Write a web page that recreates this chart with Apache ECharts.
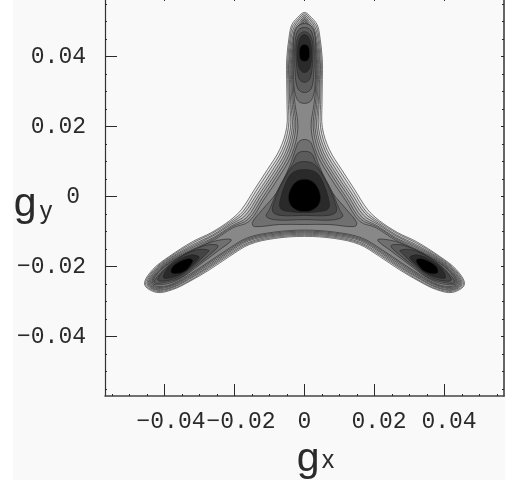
<!DOCTYPE html>
<html>
<head>
<meta charset="utf-8">
<style>html,body{margin:0;padding:0;background:#fff}#c{width:516px;height:480px}</style>
<script src="https://cdn.jsdelivr.net/npm/echarts@6/dist/echarts.min.js"></script>
</head>
<body>
<div id="c"></div>
<script>
// Tick values and labels
const majorTicks = [-0.04, -0.02, 0, 0.02, 0.04];
const xTickLabels = ['\u22120.04', '\u22120.02', '0', '0.02', '0.04'];
const yTickLabels = ['\u22120.04', '\u22120.02', '0', '0.02', '0.04'];
const minorTicks = [-0.055,-0.05,-0.045,-0.035,-0.03,-0.025,-0.015,-0.01,-0.005,0.005,0.01,0.015,0.025,0.03,0.035,0.045,0.05,0.055];

// Contours: flat x,y lists in units of 0.001
const joined1 = [0,52.6,2,51.1,3.6,49.1,4.3,46.3,5.1,39.1,5.1,33.4,5,26.3,5.1,19.7,7.1,13.4,10.6,7.7,14.3,2,18,-3.7,21.4,-6.9,26.6,-10.3,32,-12.9,38.6,-17.1,43.4,-20.9,45.7,-25.1,42.3,-27.4,37.7,-26.6,32.9,-24.3,27.1,-20.9,21.4,-17.1,15.7,-13.7,8.6,-12,0,-11.4,
 -8.6,-12,-15.7,-13.7,-21.4,-17.1,-27.1,-20.9,-32.9,-24.3,-37.7,-26.6,-42.3,-27.4,-45.7,-25.1,-43.4,-20.9,-38.6,-17.1,-32,-12.9,-26.6,-10.3,-21.4,-6.9,-18,-3.7,-14.3,2,-10.6,7.7,-7.1,13.4,-5.1,19.7,-5,26.3,-5.1,33.4,-5.1,39.1,-4.3,46.3,-3.6,49.1,-2,51.1];
const joined2 = [0,52.2,1.8,50.7,3.3,48.8,4,46.2,4.8,39.1,4.8,33.4,4.6,26.3,4.6,19.7,6.5,13.2,10.1,7.3,13.9,1.5,17.6,-4.3,21.2,-7.2,26.5,-10.6,31.8,-13.2,38.5,-17.3,43.2,-21.1,45.4,-25.1,42.2,-27.1,37.8,-26.4,33,-24.1,27.3,-20.6,21.6,-16.8,15.8,-13.4,8.6,-11.7,0,-11.1,
 -8.6,-11.7,-15.8,-13.4,-21.6,-16.8,-27.3,-20.6,-33,-24.1,-37.8,-26.4,-42.2,-27.1,-45.4,-25.1,-43.2,-21.1,-38.5,-17.3,-31.8,-13.2,-26.5,-10.6,-21.2,-7.2,-17.6,-4.3,-13.9,1.5,-10.1,7.3,-6.5,13.2,-4.6,19.7,-4.6,26.3,-4.8,33.4,-4.8,39.1,-4,46.2,-3.3,48.8,-1.8,50.7];
const joined3 = [0,51.7,1.6,50.4,2.9,48.6,3.7,46.1,4.5,39.1,4.5,33.4,4.2,26.3,4,19.6,6,12.9,9.6,6.8,13.4,1,17.3,-4.8,21.1,-7.6,26.3,-11,31.6,-13.6,38.3,-17.5,43,-21.2,45,-25,42.2,-26.8,37.9,-26.1,33.2,-23.8,27.4,-20.3,21.7,-16.5,15.9,-13.1,8.7,-11.4,0,-10.8,
 -8.7,-11.4,-15.9,-13.1,-21.7,-16.5,-27.4,-20.3,-33.2,-23.8,-37.9,-26.1,-42.2,-26.8,-45,-25,-43,-21.2,-38.3,-17.5,-31.6,-13.6,-26.3,-11,-21.1,-7.6,-17.3,-4.8,-13.4,1,-9.6,6.8,-6,12.9,-4,19.6,-4.2,26.3,-4.5,33.4,-4.5,39.1,-3.7,46.1,-2.9,48.6,-1.6,50.4];
const joined4 = [0,51.3,1.3,50,2.6,48.3,3.3,46,4.3,39.1,4.3,33.4,3.9,26.3,3.5,19.6,5.4,12.7,9.1,6.4,13,0.5,16.9,-5.4,20.9,-7.9,26.2,-11.3,31.4,-13.9,38.2,-17.7,42.8,-21.4,44.7,-25,42.1,-26.6,37.9,-25.9,33.3,-23.6,27.6,-20.1,21.9,-16.2,16,-12.7,8.7,-11.1,0,-10.5,
 -8.7,-11.1,-16,-12.7,-21.9,-16.2,-27.6,-20.1,-33.3,-23.6,-37.9,-25.9,-42.1,-26.6,-44.7,-25,-42.8,-21.4,-38.2,-17.7,-31.4,-13.9,-26.2,-11.3,-20.9,-7.9,-16.9,-5.4,-13,0.5,-9.1,6.4,-5.4,12.7,-3.5,19.6,-3.9,26.3,-4.3,33.4,-4.3,39.1,-3.3,46,-2.6,48.3,-1.3,50];
const joined5 = [0,50.9,1.1,49.6,2.2,48.1,3,45.9,4,39.1,4,33.4,3.5,26.3,3,19.6,4.9,12.4,8.6,6,12.6,0,16.5,-6,20.7,-8.3,26,-11.7,31.2,-14.2,38,-17.9,42.6,-21.5,44.4,-25,42.1,-26.3,38,-25.6,33.4,-23.3,27.8,-19.8,22,-15.9,16.1,-12.4,8.7,-10.8,0,-10.2,
 -8.7,-10.8,-16.1,-12.4,-22,-15.9,-27.8,-19.8,-33.4,-23.3,-38,-25.6,-42.1,-26.3,-44.4,-25,-42.6,-21.5,-38,-17.9,-31.2,-14.2,-26,-11.7,-20.7,-8.3,-16.5,-6,-12.6,0,-8.6,6,-4.9,12.4,-3,19.6,-3.5,26.3,-4,33.4,-4,39.1,-3,45.9,-2.2,48.1,-1.1,49.6];
const joined6 = [0,50.5,0.9,49.3,1.9,47.8,2.7,45.8,3.7,39.1,3.7,33.4,3.1,26.3,2.5,19.6,4.3,12.2,8.1,5.6,12.1,-0.5,16.1,-6.5,20.6,-8.6,25.9,-12,31.1,-14.6,37.9,-18.1,42.4,-21.7,44.1,-25,42,-26,38.1,-25.4,33.6,-23.1,28,-19.5,22.2,-15.6,16.2,-12.1,8.8,-10.5,0,-9.9,
 -8.8,-10.5,-16.2,-12.1,-22.2,-15.6,-28,-19.5,-33.6,-23.1,-38.1,-25.4,-42,-26,-44.1,-25,-42.4,-21.7,-37.9,-18.1,-31.1,-14.6,-25.9,-12,-20.6,-8.6,-16.1,-6.5,-12.1,-0.5,-8.1,5.6,-4.3,12.2,-2.5,19.6,-3.1,26.3,-3.7,33.4,-3.7,39.1,-2.7,45.8,-1.9,47.8,-0.9,49.3];
const joined7 = [0,50,0.7,48.9,1.5,47.5,2.4,45.7,3.4,39.1,3.4,33.4,2.7,26.3,1.9,19.5,3.7,11.9,7.6,5.1,11.7,-1,15.8,-7.1,20.4,-8.9,25.7,-12.3,30.9,-14.9,37.7,-18.3,42.2,-21.8,43.7,-24.9,41.9,-25.7,38.2,-25.2,33.7,-22.8,28.1,-19.2,22.3,-15.3,16.3,-11.8,8.8,-10.2,0,-9.6,
 -8.8,-10.2,-16.3,-11.8,-22.3,-15.3,-28.1,-19.2,-33.7,-22.8,-38.2,-25.2,-41.9,-25.7,-43.7,-24.9,-42.2,-21.8,-37.7,-18.3,-30.9,-14.9,-25.7,-12.3,-20.4,-8.9,-15.8,-7.1,-11.7,-1,-7.6,5.1,-3.7,11.9,-1.9,19.5,-2.7,26.3,-3.4,33.4,-3.4,39.1,-2.4,45.7,-1.5,47.5,-0.7,48.9];

const center1 = [0,16.3,1.6,15.7,2.4,14,4.3,8.6,8,1.1,12,-3.7,14.9,-7.4,14.3,-8.6,7.1,-8,0,-8,-7.1,-8,-14.3,-8.6,-14.9,-7.4,-12,-3.7,-8,1.1,-4.3,8.6,-2.4,14,-1.6,15.7];
const center2 = [0,12.9,2,12.3,3.4,9.4,7.1,2.9,10,-3.7,10.9,-5.7,8,-6.7,0,-6.6,-8,-6.7,-10.9,-5.7,-10,-3.7,-7.1,2.9,-3.4,9.4,-2,12.3];
const center3 = [0,10,2.9,9.1,6.3,4,8.6,-1.4,9.1,-4.3,6.9,-5.4,0,-5.4,-6.9,-5.4,-9.1,-4.3,-8.6,-1.4,-6.3,4,-2.9,9.1];
const center4 = [0,7.7,3.1,7,4.9,4.9,7.1,-1.7,6.6,-3.7,3.4,-4.4,0,-4.6,-3.4,-4.4,-6.6,-3.7,-7.1,-1.7,-4.9,4.9,-3.1,7];
const center5 = [0,4.9,2.3,4.3,3.9,2.3,4.6,-0.3,3.9,-2.6,2,-4,0,-4.3,-2,-4,-3.9,-2.6,-4.6,-0.3,-3.9,2.3,-2.3,4.3];

const top1 = [0,49.4,2,48.6,3,46,3.2,40,3.1,33.1,2.7,29.5,1.7,27.2,0,26.6,-1.7,27.2,-2.7,29.5,-3.1,33.1,-3.2,40,-3,46,-2,48.6];
const top2 = [0,48.3,1.7,47.6,2.6,45,2.8,40,2.6,34,2,31,1.1,30,0,29.7,-1.1,30,-2,31,-2.6,34,-2.8,40,-2.6,45,-1.7,47.6];
const top3 = [0,47.1,1.4,46.4,2.3,44,2.4,40,2.1,36,1.4,33.4,0,32.6,-1.4,33.4,-2.1,36,-2.4,40,-2.3,44,-1.4,46.4];
const top4 = [0,46.3,1.1,45.6,1.9,43,2,39.5,1.6,37,0.9,35.8,0,35.4,-0.9,35.8,-1.6,37,-2,39.5,-1.9,43,-1.1,45.6];
const top5 = [0,43.4,0.9,43.1,1.4,42,1.4,40,1,39,0,38.6,-1,39,-1.4,40,-1.4,42,-0.9,43.1];

const right1 = [43.3,-24.9,38.6,-24.8,34.9,-23.1,31.4,-20.6,28,-18,24.9,-15.7,20.9,-12.4,25.1,-12.6,30,-14.4,34.9,-16.8,41.3,-21.2];
const right2 = [42.9,-24.6,38.6,-24.3,34.9,-22.9,31.4,-20.1,28,-17.4,24.7,-14.1,28.4,-14,35.1,-17.1,40.6,-21.3];
const right3 = [41.9,-23.9,38.6,-23.9,34.9,-22.4,31.4,-19.6,28,-16.3,27.3,-15.4,30.5,-15.2,35.9,-17.6,40.1,-21.1];
const right4 = [40.3,-23.2,38.6,-23.3,34.9,-22,31.4,-19,30.1,-17.3,32.4,-16.7,36.3,-18.3,39.4,-20.9];
const right5 = [38.1,-21.7,36.6,-22.1,34.1,-21.3,32.6,-19.7,31.9,-18.2,33.1,-17.7,35.9,-18.7,37.8,-20.2];

const left1 = [-43.3,-24.9,-38.6,-24.8,-34.9,-23.1,-31.4,-20.6,-28,-18,-24.9,-15.7,-20.9,-12.4,-25.1,-12.6,-30,-14.4,-34.9,-16.8,-41.3,-21.2];
const left2 = [-42.9,-24.6,-38.6,-24.3,-34.9,-22.9,-31.4,-20.1,-28,-17.4,-24.7,-14.1,-28.4,-14,-35.1,-17.1,-40.6,-21.3];
const left3 = [-41.9,-23.9,-38.6,-23.9,-34.9,-22.4,-31.4,-19.6,-28,-16.3,-27.3,-15.4,-30.5,-15.2,-35.9,-17.6,-40.1,-21.1];
const left4 = [-40.3,-23.2,-38.6,-23.3,-34.9,-22,-31.4,-19,-30.1,-17.3,-32.4,-16.7,-36.3,-18.3,-39.4,-20.9];
const left5 = [-38.1,-21.7,-36.6,-22.1,-34.1,-21.3,-32.6,-19.7,-31.9,-18.2,-33.1,-17.7,-35.9,-18.7,-37.8,-20.2];

const contourLines = [joined1,joined2,joined3,joined4,joined5,joined6,joined7,
  center1,center2,center3,center4,center5,
  top1,top2,top3,top4,top5,
  right1,right2,right3,right4,right5,
  left1,left2,left3,left4,left5];
const contourShades = ['#e4e4e4','#d4d4d4','#c4c4c4','#b4b4b4','#a4a4a4','#969696','#888888',
  '#707070','#5c5c5c','#454545','#2a2a2a','#000000',
  '#707070','#5c5c5c','#454545','#2a2a2a','#000000',
  '#707070','#5c5c5c','#454545','#2a2a2a','#000000',
  '#707070','#5c5c5c','#454545','#2a2a2a','#000000'];

const xMin=-0.057, xMax=0.057, yMin=-0.057, yMax=0.057;
const unit=0.001;
const ink='#2a2a2a';
const labelFont={fontFamily:'Liberation Mono',fontSize:23,color:ink};

function labelIndex(v){return majorTicks.findIndex(t=>Math.abs(t-v)<1e-6);}
function xLabel(v){const i=labelIndex(v);const t=xTickLabels[i];return '{'+(i<2?'n':(i===2?'z':'p'))+'|'+t+'}';}
function yLabel(v){const i=labelIndex(v);const t=yTickLabels[i];return i===2?'{z|'+t+'}':t;}

const hidden={axisLine:{show:false,onZero:false},axisLabel:{show:false},splitLine:{show:false}};
function xa(extra){return Object.assign({type:'value',min:xMin,max:xMax,splitLine:{show:false}},extra);}
function ya(extra){return Object.assign({type:'value',min:yMin,max:yMax,splitLine:{show:false}},extra);}
const tick=(len,vals,w)=>({show:true,inside:true,length:len,customValues:vals,lineStyle:{color:ink,width:w||1}});

const chart=echarts.init(document.getElementById('c'),null,{renderer:'canvas',width:516,height:480});
chart.setOption({
  animation:false,
  graphic:[{type:'rect',silent:true,z:-10,shape:{x:13,y:0,width:492,height:480},style:{fill:'#f9f9f9'}}],
  grid:{left:105,right:12,top:-3,bottom:84,containLabel:false,outerBoundsMode:'none'},
  xAxis:[
    xa({position:'bottom',axisLine:{show:true,onZero:false,lineStyle:{color:'#444',width:1.5}},axisTick:tick(12,majorTicks),
      axisLabel:{show:true,customValues:majorTicks,margin:14,hideOverlap:false,showMinLabel:true,showMaxLabel:true,formatter:xLabel,
        rich:{n:Object.assign({padding:[0,0,0,13]},labelFont),z:Object.assign({},labelFont),p:Object.assign({padding:[0,0,0,9]},labelFont)}},
      name:'{g|g}{s|x}',nameLocation:'middle',nameGap:43,
      nameTextStyle:{rich:{g:{fontFamily:'Liberation Sans',fontSize:41,color:ink,padding:[0,2,4,0]},s:{fontFamily:'Liberation Sans',fontSize:25,color:ink}},padding:[0,0,0,22]}}),
    xa({position:'bottom',axisTick:tick(2,minorTicks),...hidden}),
    xa({position:'top',axisLine:{show:true,onZero:false,lineStyle:{color:'#444'}},axisTick:tick(4,majorTicks),axisLabel:{show:false}})
  ],
  yAxis:[
    ya({position:'left',axisLine:{show:true,onZero:false,lineStyle:{color:'#333',width:1.2}},axisTick:tick(12,majorTicks),
      axisLabel:{show:true,customValues:majorTicks,margin:19,hideOverlap:false,formatter:yLabel,
        fontFamily:'Liberation Mono',fontSize:23,color:ink,rich:{z:Object.assign({padding:[0,6,0,0]},labelFont)}},
      name:'{g|g}{s|y}',nameLocation:'middle',nameRotate:0,nameGap:72,nameMoveOverlap:false,
      nameTextStyle:{align:'center',verticalAlign:'middle',padding:[20,0,0,0],rich:{g:{fontFamily:'Liberation Sans',fontSize:41,color:ink,padding:[0,3,4,0]},s:{fontFamily:'Liberation Sans',fontSize:25,color:ink,padding:[12,0,0,0]}}}}),
    ya({position:'left',axisTick:tick(2,minorTicks),...hidden}),
    ya({position:'right',axisLine:{show:true,onZero:false,lineStyle:{color:'#333',width:1.5}},axisTick:tick(3,majorTicks),axisLabel:{show:false}}),
    ya({position:'right',axisTick:tick(2,minorTicks),...hidden})
  ],
  series:[{
    type:'custom',
    coordinateSystem:'cartesian2d',
    xAxisIndex:0,yAxisIndex:0,
    clip:true,
    silent:true,
    data:contourLines.map((c,i)=>[c[0]*unit,c[1]*unit,i]),
    renderItem(params,api){
      const i=api.value(2);
      const flat=contourLines[i];
      const pts=[];
      for(let k=0;k<flat.length;k+=2){pts.push(api.coord([flat[k]*unit,flat[k+1]*unit]));}
      return {type:'polygon',shape:{points:pts,smooth:0.35},style:{fill:contourShades[i],stroke:'#222222',lineWidth:0.6}};
    }
  }]
});
</script>
</body>
</html>
